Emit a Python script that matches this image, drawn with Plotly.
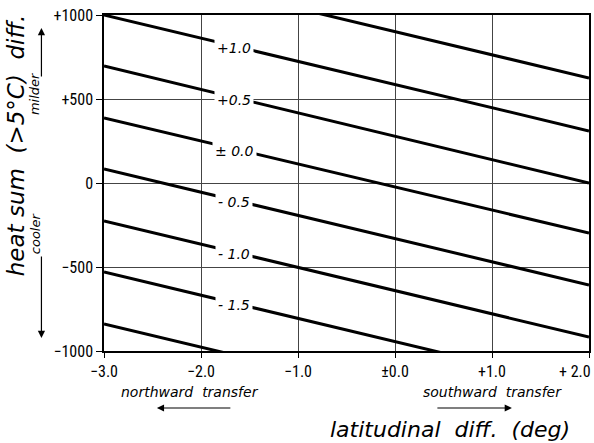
import plotly.graph_objects as go

# ---- data ----
x_ends = [-3.0, 2.0]
line_labels = ["+1.5", "+1.0", "+0.5", "± 0.0", "- 0.5", "- 1.0", "- 1.5", "- 2.0"]
show_label = [False, True, True, True, True, True, True, False]
heat_at_left = [1315, 1000, 696, 387, 83, -226, -530, -839]      # value at x = -3.0
heat_at_right = [625, 310, 0, -298, -607, -917, -1220, -1529]    # value at x = +2.0

x_ticks = [-3, -2, -1, 0, 1, 2]
x_ticktext = ["−3.0", "−2.0", "−1.0", "±0.0", "+1.0", "+ 2.0"]
y_ticks = [-1000, -500, 0, 500, 1000]
y_ticktext = ["−1000", "−500", "0", "+500", "+1000"]

label_x = -1.655

TICK_FONT = "Liberation Sans Narrow, Roboto Condensed, DejaVu Sans Condensed, Liberation Sans, sans-serif"
ITAL_FONT = "DejaVu Sans, sans-serif"

fig = go.Figure()
for lab, y0, y1 in zip(line_labels, heat_at_left, heat_at_right):
    fig.add_trace(go.Scatter(x=x_ends, y=[y0, y1], mode="lines",
                             line=dict(color="black", width=3),
                             showlegend=False, hoverinfo="skip"))

annotations = []
for lab, show, y0, y1 in zip(line_labels, show_label, heat_at_left, heat_at_right):
    if not show:
        continue
    frac = (label_x - x_ends[0]) / (x_ends[1] - x_ends[0])
    ly = y0 + (y1 - y0) * frac
    annotations.append(dict(x=label_x, y=ly, xref="x", yref="y", text="<i>" + lab + "</i>",
                            showarrow=False, bgcolor="white", borderpad=2,
                            font=dict(family=ITAL_FONT, size=14, color="black"),
                            xanchor="center", yanchor="middle", yshift=-2))

# last x tick label drawn as an annotation so it stays inside the page
shown_ticktext = x_ticktext[:-1] + [""]
annotations.append(dict(x=1.0, y=0, xref="paper", yref="paper", text=x_ticktext[-1],
                        showarrow=False, xanchor="right", yanchor="middle",
                        xshift=4, yshift=-20,
                        font=dict(family=TICK_FONT, size=16, color="black")))

# axis titles and side notes
annotations += [
    dict(x=-0.181, y=0.613, xref="paper", yref="paper", textangle=-90,
         text="<i>heat sum  (&gt;5°C)  diff.</i>", showarrow=False,
         font=dict(family=ITAL_FONT, size=23, color="black"), xanchor="center", yanchor="middle"),
    dict(x=-0.142, y=0.765, xref="paper", yref="paper", textangle=-90,
         text="<i>milder</i>", showarrow=False,
         font=dict(family=ITAL_FONT, size=13, color="black"), xanchor="center", yanchor="middle"),
    dict(x=-0.142, y=0.351, xref="paper", yref="paper", textangle=-90,
         text="<i>cooler</i>", showarrow=False,
         font=dict(family=ITAL_FONT, size=13, color="black"), xanchor="center", yanchor="middle"),
    dict(x=-0.129, y=0.961, xref="paper", yref="paper", text="", showarrow=True,
         ax=0, ay=50, arrowhead=2, arrowsize=1.2, arrowwidth=1.2, arrowcolor="black"),
    dict(x=-0.129, y=0.039, xref="paper", yref="paper", text="", showarrow=True,
         ax=0, ay=-83, arrowhead=2, arrowsize=1.2, arrowwidth=1.2, arrowcolor="black"),
    dict(x=0.713, y=-0.235, xref="paper", yref="paper",
         text="<i>latitudinal  diff.  (deg)</i>", showarrow=False,
         font=dict(family=ITAL_FONT, size=22, color="black"), xanchor="center", yanchor="middle"),
    dict(x=0.1765, y=-0.122, xref="paper", yref="paper",
         text="<i>northward  transfer</i>", showarrow=False,
         font=dict(family=ITAL_FONT, size=14, color="black"), xanchor="center", yanchor="middle"),
    dict(x=0.8, y=-0.122, xref="paper", yref="paper",
         text="<i>southward  transfer</i>", showarrow=False,
         font=dict(family=ITAL_FONT, size=14, color="black"), xanchor="center", yanchor="middle"),
    dict(x=0.109, y=-0.1696, xref="paper", yref="paper", text="", showarrow=True,
         ax=75, ay=0, arrowhead=2, arrowsize=1.2, arrowwidth=1.2, arrowcolor="black"),
    dict(x=0.841, y=-0.1696, xref="paper", yref="paper", text="", showarrow=True,
         ax=-76, ay=0, arrowhead=2, arrowsize=1.2, arrowwidth=1.2, arrowcolor="black"),
]

fig.update_layout(
    width=594, height=443,
    margin=dict(l=104, r=5, t=15, b=92, autoexpand=False),
    paper_bgcolor="white", plot_bgcolor="white",
    annotations=annotations,
    xaxis=dict(range=[-3, 2], tickvals=x_ticks, ticktext=shown_ticktext,
               showgrid=True, gridcolor="#444444", gridwidth=1,
               showline=True, linecolor="black", linewidth=1.5, mirror=True,
               ticks="outside", ticklen=5, tickcolor="black", zeroline=False,
               automargin=False,
               tickfont=dict(family=TICK_FONT, size=16, color="black")),
    yaxis=dict(range=[-1000, 1000], tickvals=y_ticks, ticktext=y_ticktext,
               showgrid=True, gridcolor="#444444", gridwidth=1,
               showline=True, linecolor="black", linewidth=1.5, mirror=True,
               ticks="outside", ticklen=6, tickcolor="black", zeroline=False,
               automargin=False,
               tickfont=dict(family=TICK_FONT, size=16, color="black")),
)

fig.write_html("out.html")
